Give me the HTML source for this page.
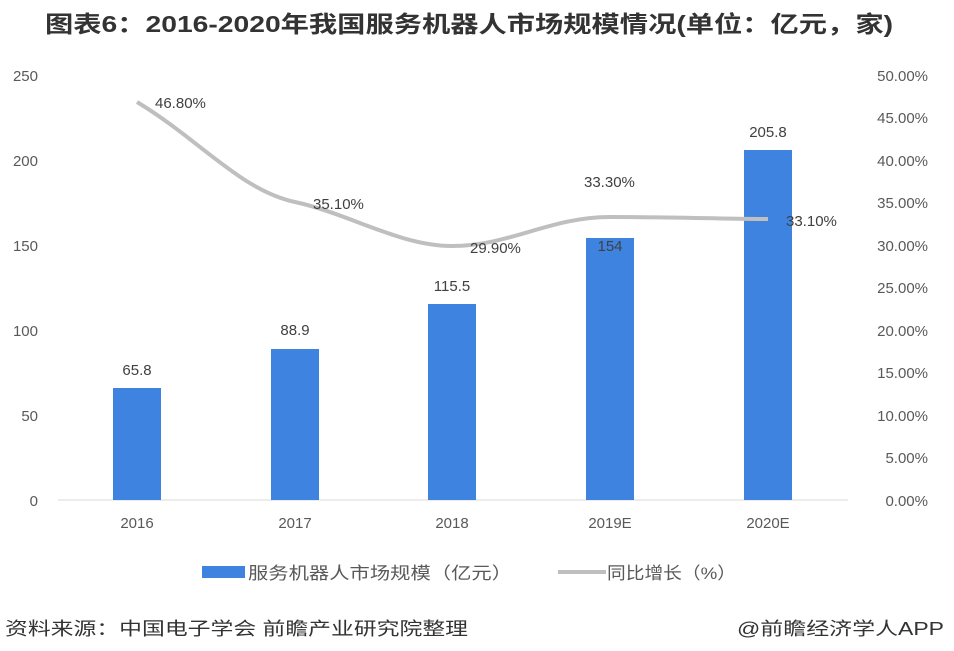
<!DOCTYPE html>
<html><head><meta charset="utf-8"><style>
body{margin:0;background:#fff;}
svg{display:block;font-family:"Liberation Sans","Noto Sans CJK SC",sans-serif;}
</style></head><body>
<svg width="954" height="651" viewBox="0 0 954 651" xmlns="http://www.w3.org/2000/svg">
<rect width="954" height="651" fill="#fff"/>
<text x="45" y="32" font-size="23" font-weight="bold" fill="#333" textLength="848" lengthAdjust="spacingAndGlyphs">图表6：2016-2020年我国服务机器人市场规模情况(单位：亿元，家)</text>
<g font-size="15" fill="#595959">
<text x="38" y="81" text-anchor="end">250</text>
<text x="38" y="166" text-anchor="end">200</text>
<text x="38" y="251" text-anchor="end">150</text>
<text x="38" y="336" text-anchor="end">100</text>
<text x="38" y="421" text-anchor="end">50</text>
<text x="38" y="506" text-anchor="end">0</text>
</g>
<g font-size="15" fill="#595959" text-anchor="end">
<text x="928" y="81">50.00%</text><text x="928" y="123">45.00%</text><text x="928" y="166">40.00%</text>
<text x="928" y="208">35.00%</text><text x="928" y="251">30.00%</text><text x="928" y="293">25.00%</text>
<text x="928" y="336">20.00%</text><text x="928" y="378">15.00%</text><text x="928" y="421">10.00%</text>
<text x="928" y="463">5.00%</text><text x="928" y="506">0.00%</text>
</g>
<line x1="58" y1="500" x2="848" y2="500" stroke="#d9d9d9"/>
<g fill="#3f83e0">
<rect x="113" y="388" width="48" height="112"/>
<rect x="271" y="349" width="48" height="151"/>
<rect x="428" y="304" width="48" height="196"/>
<rect x="586" y="238" width="48" height="262"/>
<rect x="744" y="150" width="48" height="350"/>
</g>
<g font-size="15" fill="#404040" text-anchor="middle">
<text x="137" y="375">65.8</text><text x="295" y="335">88.9</text><text x="452" y="291">115.5</text>
<text x="610" y="251">154</text><text x="768" y="137">205.8</text>
</g>
<path d="M137,102 C200,140 240,190 295,202 C350,214 400,246 452,246 C510,246 550,217 610,217 C680,217 720,219 768,219" fill="none" stroke="#bfbfbf" stroke-width="4"/>
<g font-size="15" fill="#404040">
<text x="155" y="108">46.80%</text><text x="313" y="209">35.10%</text><text x="470" y="253">29.90%</text>
<text x="584" y="187">33.30%</text><text x="786" y="226">33.10%</text>
</g>
<g font-size="15" fill="#595959" text-anchor="middle">
<text x="137" y="528">2016</text><text x="295" y="528">2017</text><text x="452" y="528">2018</text>
<text x="610" y="528">2019E</text><text x="768" y="528">2020E</text>
</g>
<rect x="202" y="566" width="43" height="12" fill="#3f83e0"/>
<text x="248" y="579" font-size="17" fill="#595959" textLength="264" lengthAdjust="spacingAndGlyphs">服务机器人市场规模（亿元）</text>
<line x1="558" y1="572" x2="606" y2="572" stroke="#bfbfbf" stroke-width="4"/>
<text x="607" y="579" font-size="17" fill="#595959" textLength="129" lengthAdjust="spacingAndGlyphs">同比增长（%）</text>
<text x="5" y="635" font-size="18" fill="#333" textLength="463" lengthAdjust="spacingAndGlyphs">资料来源：中国电子学会 前瞻产业研究院整理</text>
<text x="737" y="635" font-size="18" fill="#333" textLength="207" lengthAdjust="spacingAndGlyphs">@前瞻经济学人APP</text>
</svg>
</body></html>
